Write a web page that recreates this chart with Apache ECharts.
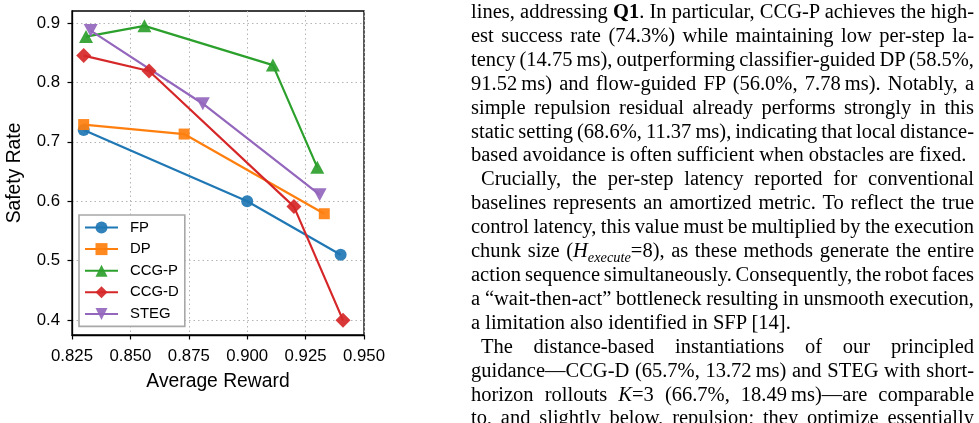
<!DOCTYPE html>
<html>
<head>
<meta charset="utf-8">
<script src="https://cdn.jsdelivr.net/npm/echarts@6/dist/echarts.min.js"></script>
<style>
  html, body { margin: 0; padding: 0; background: #fff; }
  .page { position: relative; width: 979px; height: 423px; overflow: hidden; }
  .tradeoff-chart { position: absolute; left: 0; top: 0; width: 979px; height: 423px; }
  .body-text {
    position: absolute; left: 471px; top: 0px; width: 503px;
    font-family: "Liberation Serif", "DejaVu Serif", serif;
    font-size: 20.5px; line-height: 23.9px; color: #000;
  }
  .body-text div {
    text-align: justify; text-align-last: justify; white-space: nowrap; word-spacing: -3px;
  }
  .body-text div.last { text-align-last: left; word-spacing: 0; }
  .body-text div.indent { text-indent: 10px; }
  .body-text sub { font-size: 0.7em; line-height: 0; }
</style>
</head>
<body>
<div class="page">
  <div class="tradeoff-chart" id="chart"></div>
  <div class="body-text">
    <div>lines, addressing <b>Q1</b>. In particular, CCG-P achieves the high-</div>
    <div>est success rate (74.3%) while maintaining low per-step la-</div>
    <div>tency (14.75&#8201;ms), outperforming classifier-guided DP (58.5%,</div>
    <div>91.52&#8201;ms) and flow-guided FP (56.0%, 7.78&#8201;ms). Notably, a</div>
    <div>simple repulsion residual already performs strongly in this</div>
    <div>static setting (68.6%, 11.37&#8201;ms), indicating that local distance-</div>
    <div class="last">based avoidance is often sufficient when obstacles are fixed.</div>
    <div class="indent">Crucially, the per-step latency reported for conventional</div>
    <div>baselines represents an amortized metric. To reflect the true</div>
    <div>control latency, this value must be multiplied by the execution</div>
    <div>chunk size (<i>H</i><sub><i>execute</i></sub>=8), as these methods generate the entire</div>
    <div>action sequence simultaneously. Consequently, the robot faces</div>
    <div>a &#8220;wait-then-act&#8221; bottleneck resulting in unsmooth execution,</div>
    <div class="last">a limitation also identified in SFP [14].</div>
    <div class="indent">The distance-based instantiations of our principled</div>
    <div>guidance&#8212;CCG-D (65.7%, 13.72&#8201;ms) and STEG with short-</div>
    <div>horizon rollouts <i>K</i>=3 (66.7%, 18.49&#8201;ms)&#8212;are comparable</div>
    <div>to, and slightly below, repulsion; they optimize essentially</div>
  </div>
</div>
<script>
// average reward (x) / safety rate (y) per method
const fpReward = [0.830, 0.900, 0.940]
const fpSafety = [0.720, 0.600, 0.510]
const dpReward = [0.830, 0.873, 0.933]
const dpSafety = [0.729, 0.713, 0.579]
const ccgpReward = [0.831, 0.856, 0.911, 0.930]
const ccgpSafety = [0.877, 0.895, 0.829, 0.657]
const ccgdReward = [0.830, 0.858, 0.920, 0.941]
const ccgdSafety = [0.845, 0.819, 0.591, 0.400]
const stegReward = [0.833, 0.881, 0.931]
const stegSafety = [0.887, 0.764, 0.611]

const yTicks = [0.4, 0.5, 0.6, 0.7, 0.8, 0.9]

const font = 'Liberation Sans'
const zip = (xs, ys) => xs.map((x, i) => [x, ys[i]])

function makeSeries(name, xs, ys, color, symbol, size, rotate) {
  return {
    name: name,
    type: 'line',
    data: zip(xs, ys),
    symbol: symbol,
    symbolSize: size,
    symbolRotate: rotate || 0,
    showSymbol: true,
    clip: false,
    lineStyle: { width: 2.2, color: color },
    itemStyle: { color: color, borderWidth: 0, opacity: 0.92 },
    emphasis: { disabled: true },
  }
}

const chart = echarts.init(document.getElementById('chart'), null, { renderer: 'canvas' })
const options = {
  backgroundColor: 'transparent',
  animation: false,
  grid: {
    left: 72,
    top: 11,
    width: 292,
    height: 324,
    show: true,
    borderColor: '#000',
    borderWidth: 1.3,
    backgroundColor: 'transparent',
  },
  legend: {
    orient: 'vertical',
    left: 79,
    top: 215,
    padding: [5, 6, 5, 5],
    itemWidth: 33,
    itemHeight: 15,
    itemGap: 6.6,
    backgroundColor: '#fff',
    borderColor: '#a8a8a8',
    borderWidth: 1.6,
    textStyle: { fontFamily: font, fontSize: 14.9, color: '#000', padding: [0, 0, 0, 7] },
    data: ['FP', 'DP', 'CCG-P', 'CCG-D', 'STEG'],
  },
  xAxis: {
    type: 'value',
    min: 0.825,
    max: 0.95,
    interval: 0.025,
    name: 'Average Reward',
    nameLocation: 'middle',
    nameGap: 37.5,
    nameTextStyle: { fontFamily: font, fontSize: 19.3, color: '#000' },
    axisLine: { show: true, onZero: false, lineStyle: { color: '#000', width: 1.3 } },
    axisTick: { show: true, inside: false, length: 4.5, lineStyle: { color: '#000', width: 1.2 } },
    axisLabel: {
      fontFamily: font, fontSize: 16.8, color: '#000', margin: 13,
      formatter: (v) => v.toFixed(3),
    },
    splitLine: { show: true, lineStyle: { color: '#b4b4b4', width: 1, type: [1.5, 3] } },
  },
  yAxis: {
    type: 'value',
    min: 0.375,
    max: 0.92,
    name: 'Safety Rate',
    nameLocation: 'middle',
    nameGap: 48,
    nameTextStyle: { fontFamily: font, fontSize: 19.3, color: '#000' },
    axisLine: { show: true, onZero: false, lineStyle: { color: '#000', width: 1.3 } },
    axisTick: {
      show: true, inside: false, length: 4.5, customValues: yTicks,
      lineStyle: { color: '#000', width: 1.2 },
    },
    axisLabel: {
      fontFamily: font, fontSize: 16.8, color: '#000', margin: 12, customValues: yTicks,
      formatter: (v) => v.toFixed(1),
    },
    splitLine: { show: true, lineStyle: { color: '#b4b4b4', width: 1, type: [1.5, 3] } },
  },
  series: [
    makeSeries('FP', fpReward, fpSafety, '#1f77b4', 'circle', 12),
    makeSeries('DP', dpReward, dpSafety, '#ff7f0e', 'rect', 11),
    makeSeries('CCG-P', ccgpReward, ccgpSafety, '#2ca02c', 'triangle', [14, 13]),
    makeSeries('CCG-D', ccgdReward, ccgdSafety, '#d62728', 'diamond', 15),
    makeSeries('STEG', stegReward, stegSafety, '#9467bd', 'triangle', [14, 13], 180),
  ],
}
chart.setOption(options)
</script>
</body>
</html>
